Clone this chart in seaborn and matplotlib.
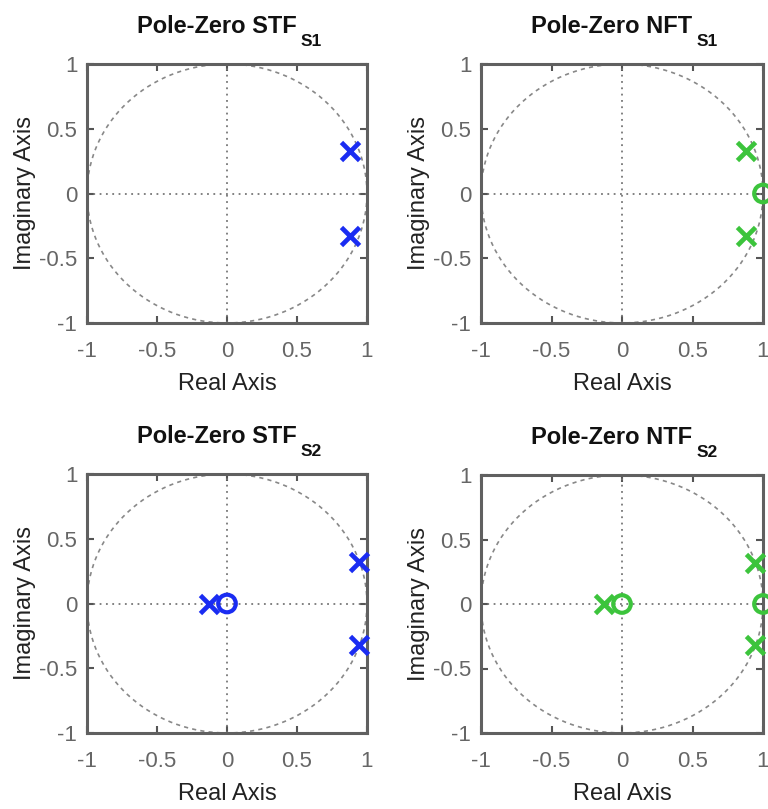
import matplotlib
matplotlib.use("Agg")
import matplotlib.pyplot as plt
import seaborn as sns
import pandas as pd
import numpy as np

sns.set_style("white")
plt.rcParams["font.family"] = ["Liberation Sans", "DejaVu Sans"]

# pole / zero locations
stf1_poles_re = [0.88, 0.88]
stf1_poles_im = [0.33, -0.33]
stf1_zeros_re = []
stf1_zeros_im = []

ntf1_poles_re = [0.88, 0.88]
ntf1_poles_im = [0.33, -0.33]
ntf1_zeros_re = [1.0]
ntf1_zeros_im = [0.0]

stf2_poles_re = [0.94, 0.94, -0.13]
stf2_poles_im = [0.32, -0.32, 0.0]
stf2_zeros_re = [0.0]
stf2_zeros_im = [0.0]

ntf2_poles_re = [0.94, 0.94, -0.13]
ntf2_poles_im = [0.32, -0.32, 0.0]
ntf2_zeros_re = [0.0, 1.0]
ntf2_zeros_im = [0.0, 0.0]

titles = [("Pole-Zero STF", "S1"), ("Pole-Zero NFT", "S1"),
          ("Pole-Zero STF", "S2"), ("Pole-Zero NTF", "S2")]
ticks = [-1, -0.5, 0, 0.5, 1]
tick_labels = ["-1", "-0.5", "0", "0.5", "1"]

blue = "#1a2cf2"
green = "#3cc43c"

panels = [
    (stf1_poles_re, stf1_poles_im, stf1_zeros_re, stf1_zeros_im, blue),
    (ntf1_poles_re, ntf1_poles_im, ntf1_zeros_re, ntf1_zeros_im, green),
    (stf2_poles_re, stf2_poles_im, stf2_zeros_re, stf2_zeros_im, blue),
    (ntf2_poles_re, ntf2_poles_im, ntf2_zeros_re, ntf2_zeros_im, green),
]

W, H = 768, 809
fig = plt.figure(figsize=(W / 100, H / 100), dpi=100)
boxes = [(87, 64, 367, 323), (481, 64, 763, 323),
         (87, 474, 367, 733), (481, 475, 763, 733)]

theta = np.linspace(0, 2 * np.pi, 400)
circle = pd.DataFrame({"re": np.cos(theta), "im": np.sin(theta)})

for (x0, y0, x1, y1), (title, sub), (pr, pi, zr, zi, col) in zip(boxes, titles, panels):
    ax = fig.add_axes([x0 / W, 1 - y1 / H, (x1 - x0) / W, (y1 - y0) / H])
    ax.axhline(0, color="#777777", lw=1.3, ls=(0, (1, 2.5)), zorder=1)
    ax.axvline(0, color="#777777", lw=1.3, ls=(0, (1, 2.5)), zorder=1)
    sns.lineplot(data=circle, x="re", y="im", sort=False, estimator=None, ax=ax,
                 color="#888888", lw=1.2, ls=(0, (2.5, 2.5)), zorder=1)
    sns.scatterplot(x=pr, y=pi, marker="x", s=170, color=col, linewidth=3.4,
                    ax=ax, clip_on=False, zorder=3)
    if zr:
        sns.scatterplot(x=zr, y=zi, marker="o", s=160, facecolor="none",
                        edgecolor=col, linewidth=3.0, ax=ax, clip_on=False, zorder=3)
    ax.set_xlim(-1, 1)
    ax.set_ylim(-1, 1)
    ax.set_xticks(ticks)
    ax.set_xticklabels(tick_labels)
    ax.set_yticks(ticks)
    ax.set_yticklabels(tick_labels)
    ax.tick_params(direction="in", length=5, width=1.5, color="#555555",
                   labelcolor="#666666", labelsize=16, top=True, right=True,
                   bottom=True, left=True)
    ax.tick_params(axis="x", pad=13)
    ax.tick_params(axis="y", pad=7)
    for s in ax.spines.values():
        s.set_visible(True)
        s.set_color("#606060")
        s.set_linewidth(2.2)
    ax.set_xlabel("Real Axis", fontsize=17, color="#222222", labelpad=8)
    ax.set_ylabel("Imaginary Axis", fontsize=17, color="#222222", labelpad=2)

    # title with a lowered subscript
    cx = (x0 + x1) / 2 / W - 10 / W
    t = fig.text(cx, 1 - (y0 - 31) / H, title, fontsize=17, fontweight="bold",
                 ha="center", va="baseline", color="#111111")
    ax.annotate(sub, xy=(1, 0), xycoords=t, xytext=(3, -5.5),
                textcoords="offset points", fontsize=12.5, fontweight="bold",
                ha="left", va="baseline", color="#111111")

fig.savefig("out.png", dpi=100)
